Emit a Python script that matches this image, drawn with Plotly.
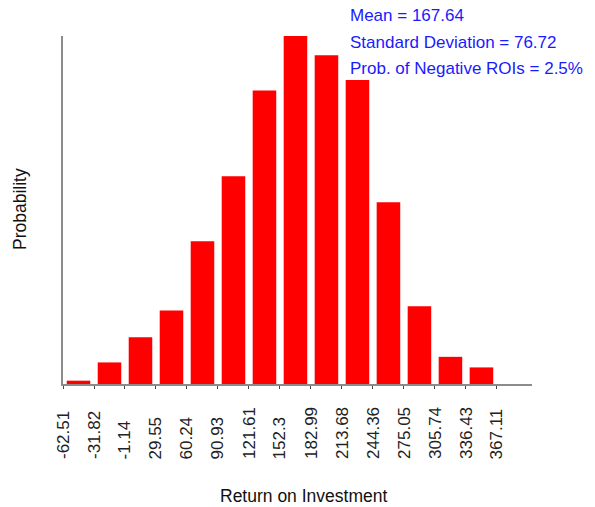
import plotly.graph_objects as go

# Bin edges (tick labels) of the Return on Investment histogram
bin_edges = [-62.51, -31.82, -1.14, 29.55, 60.24, 90.93, 121.61, 152.3,
             182.99, 213.68, 244.36, 275.05, 305.74, 336.43, 367.11]
edge_labels = ["-62.51", "-31.82", "-1.14", "29.55", "60.24", "90.93", "121.61",
               "152.3", "182.99", "213.68", "244.36", "275.05", "305.74",
               "336.43", "367.11"]
# Probability per bin
probabilities = [0.0016, 0.0104, 0.0226, 0.0355, 0.0688, 0.1002, 0.1415,
                 0.1678, 0.1585, 0.1466, 0.0876, 0.0375, 0.0131, 0.0080]
stats_lines = ["Mean = 167.64", "Standard Deviation = 76.72",
               "Prob. of Negative ROIs = 2.5%"]

mids = [(bin_edges[i] + bin_edges[i + 1]) / 2 for i in range(len(probabilities))]
step = bin_edges[1] - bin_edges[0]

FONT = "Liberation Sans, Arial, Helvetica, sans-serif"
OFF = 8  # page body margin
W, H = 595 - OFF, 507 - OFF
# plot area in window pixels: x 63..532, y 36..384
PX0, PX1, PY0, PY1 = 63 - OFF, 532 - OFF, 36 - OFF, 384 - OFF
L, R, T, B = PX0, W - PX1, PY0, H - PY1
pw, ph = PX1 - PX0, PY1 - PY0


def fx(px):  # window px -> paper x
    return (px - OFF - PX0) / pw


def fy(py):  # window px -> paper y
    return (PY1 - (py - OFF)) / ph


fig = go.Figure(go.Bar(
    x=mids, y=probabilities,
    marker=dict(color="#ff0000", line=dict(width=0)),
    hoverinfo="x+y",
))

annotations = []
for v, t in zip(bin_edges, edge_labels):
    annotations.append(dict(
        x=v, y=fy(461), xref="x", yref="paper", text=t, textangle=-90,
        showarrow=False, xanchor="center", yanchor="bottom",
        font=dict(family=FONT, size=17, color="#222222"),
    ))

for i, s in enumerate(stats_lines):
    annotations.append(dict(
        x=fx(348), y=fy(16 + 26 * i), xref="paper", yref="paper",
        xanchor="left", yanchor="middle", text=s, showarrow=False,
        font=dict(family=FONT, size=17, color="#1a1aff"),
    ))

annotations.append(dict(
    x=fx(303), y=fy(496), xref="paper", yref="paper",
    text="Return on Investment", showarrow=False, xanchor="center", yanchor="middle",
    font=dict(family=FONT, size=17.5, color="#111111"),
))
annotations.append(dict(
    x=fx(20), y=fy(209), xref="paper", yref="paper",
    text="Probability", textangle=-90, showarrow=False, xanchor="center", yanchor="middle",
    font=dict(family=FONT, size=17.5, color="#111111"),
))

fig.update_layout(
    width=W, height=H,
    margin=dict(l=L, r=R, t=T, b=B, pad=0),
    paper_bgcolor="white", plot_bgcolor="white",
    bargap=0.24,
    showlegend=False,
    annotations=annotations,
    xaxis=dict(
        range=[bin_edges[0], bin_edges[0] + 15.13 * step],
        tickvals=bin_edges, showticklabels=False,
        ticks="outside", ticklen=3, tickwidth=1, tickcolor="#444444",
        showline=True, linecolor="#8c8c8c", linewidth=2,
        showgrid=False, zeroline=False,
    ),
    yaxis=dict(
        range=[0, max(probabilities)],
        showticklabels=False, ticks="",
        showline=True, linecolor="#8c8c8c", linewidth=2,
        showgrid=False, zeroline=False,
    ),
)

fig.write_html("out.html")
